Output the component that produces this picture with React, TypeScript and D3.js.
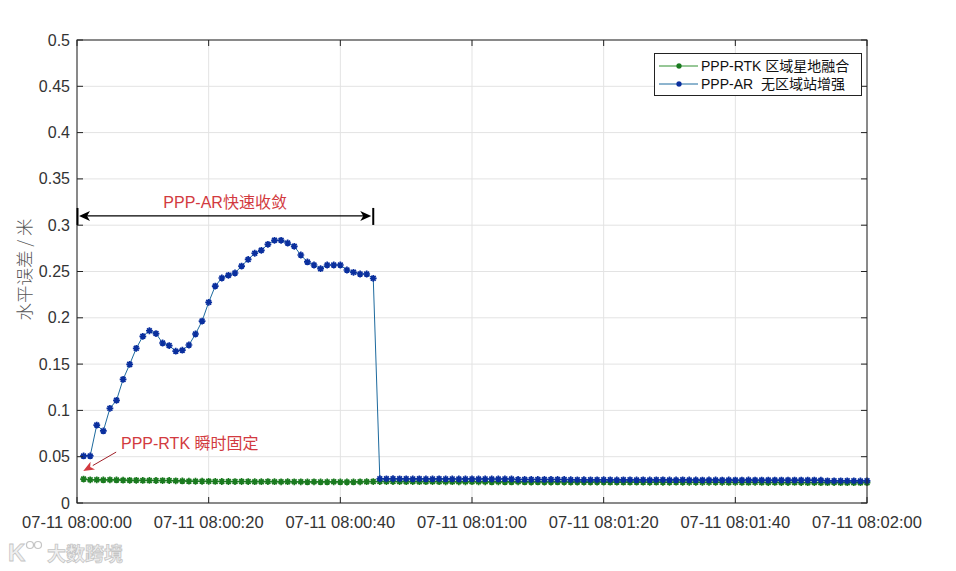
import React from "react";
import * as d3 from "d3";

// ---- data ----
const xTickSeconds = [0, 20, 40, 60, 80, 100, 120];
const xTickLabels = [
  "07-11 08:00:00",
  "07-11 08:00:20",
  "07-11 08:00:40",
  "07-11 08:01:00",
  "07-11 08:01:20",
  "07-11 08:01:40",
  "07-11 08:02:00",
];
const yTicks = [0, 0.05, 0.1, 0.15, 0.2, 0.25, 0.3, 0.35, 0.4, 0.45, 0.5];

// seconds since 08:00:00 (1..120)
const seconds = Array.from({ length: 120 }, (_, i) => i + 1);

const rtkValues = [
  0.0258, 0.0250, 0.0250, 0.0249, 0.0250, 0.0249, 0.0246, 0.0245, 0.0245, 0.0244,
  0.0244, 0.0243, 0.0242, 0.0243, 0.0240, 0.0238, 0.0236, 0.0235, 0.0235, 0.0234,
  0.0233, 0.0232, 0.0232, 0.0231, 0.0232, 0.0231, 0.0230, 0.0230, 0.0231, 0.0230,
  0.0229, 0.0230, 0.0229, 0.0229, 0.0228, 0.0229, 0.0228, 0.0228, 0.0229, 0.0228,
  0.0227, 0.0228, 0.0229, 0.0230, 0.0231, 0.0232, 0.0231, 0.0232, 0.0231, 0.0230,
  0.0231, 0.0230, 0.0230, 0.0231, 0.0230, 0.0229, 0.0230, 0.0229, 0.0229, 0.0230,
  0.0229, 0.0229, 0.0228, 0.0229, 0.0228, 0.0228, 0.0229, 0.0228, 0.0227, 0.0228,
  0.0227, 0.0227, 0.0228, 0.0227, 0.0226, 0.0227, 0.0226, 0.0226, 0.0227, 0.0226,
  0.0225, 0.0226, 0.0225, 0.0225, 0.0226, 0.0225, 0.0224, 0.0225, 0.0224, 0.0224,
  0.0225, 0.0224, 0.0223, 0.0224, 0.0223, 0.0223, 0.0224, 0.0223, 0.0222, 0.0223,
  0.0222, 0.0222, 0.0223, 0.0222, 0.0221, 0.0222, 0.0221, 0.0221, 0.0222, 0.0221,
  0.0220, 0.0221, 0.0220, 0.0220, 0.0221, 0.0220, 0.0219, 0.0220, 0.0219, 0.0219,
];

const arValues = [
  0.0508, 0.0508, 0.0842, 0.0778, 0.1022, 0.1109, 0.1335, 0.1497, 0.1670, 0.1800,
  0.1860, 0.1830, 0.1728, 0.1700, 0.1640, 0.1650, 0.1706, 0.1825, 0.1965, 0.2167,
  0.2343, 0.2430, 0.2459, 0.2484, 0.2559, 0.2630, 0.2697, 0.2729, 0.2794, 0.2837,
  0.2837, 0.2808, 0.2772, 0.2678, 0.2603, 0.2570, 0.2530, 0.2570, 0.2570, 0.2570,
  0.2516, 0.2491, 0.2473, 0.2473, 0.2426, 0.0262, 0.0261, 0.0262, 0.0261, 0.0261,
  0.0260, 0.0261, 0.0260, 0.0260, 0.0261, 0.0260, 0.0260, 0.0259, 0.0260, 0.0260,
  0.0259, 0.0260, 0.0259, 0.0259, 0.0260, 0.0259, 0.0254, 0.0255, 0.0254, 0.0255,
  0.0254, 0.0255, 0.0254, 0.0255, 0.0251, 0.0250, 0.0251, 0.0250, 0.0250, 0.0251,
  0.0250, 0.0249, 0.0250, 0.0250, 0.0249, 0.0250, 0.0249, 0.0250, 0.0250, 0.0249,
  0.0249, 0.0250, 0.0249, 0.0249, 0.0248, 0.0249, 0.0249, 0.0248, 0.0249, 0.0248,
  0.0248, 0.0249, 0.0248, 0.0248, 0.0247, 0.0248, 0.0248, 0.0247, 0.0248, 0.0247,
  0.0247, 0.0247, 0.0246, 0.0240, 0.0239, 0.0240, 0.0239, 0.0239, 0.0238, 0.0239,
];

const seriesNames = ["PPP-RTK 区域星地融合", "PPP-AR  无区域站增强"];
const arrowLabel = "PPP-AR快速收敛";
const arrowStartSec = 0;
const arrowEndSec = 45;
const arrowValue = 0.31;
const rtkNote = "PPP-RTK 瞬时固定";
const yLabel = "水平误差 / 米";

// ---- layout ----
const W = 956;
const H = 571;
const L = 77, R = 867, T = 40, B = 503;

const x = d3.scaleLinear().domain([0, 120]).range([L, R]);
const y = d3.scaleLinear().domain([0, 0.5]).range([B, T]);

const GREEN_LINE = "#2f8f2f";
const GREEN_MARK = "#1a7a1f";
const BLUE_LINE = "#1d6a9e";
const BLUE_MARK = "#0a2f9e";
const RED = "#d23a40";

const starPath = (r: number) => {
  const d = r * 0.7071;
  return `M${-r},0L${r},0M0,${-r}L0,${r}M${-d},${-d}L${d},${d}M${-d},${d}L${d},${-d}`;
};

function Series({ values, line, mark }: { values: number[]; line: string; mark: string }) {
  const gen = d3
    .line<number>()
    .x((_, i) => x(seconds[i]))
    .y((v) => y(v));
  const sp = starPath(3.4);
  return (
    <g>
      <path d={gen(values) || ""} fill="none" stroke={line} strokeWidth={1} />
      {values.map((v, i) => (
        <path
          key={i}
          d={sp}
          transform={`translate(${x(seconds[i])},${y(v)})`}
          stroke={mark}
          strokeWidth={1.7}
          fill="none"
        />
      ))}
    </g>
  );
}

export default function App() {
  const font = "'Liberation Sans', Arial, Helvetica, sans-serif";
  const cjk = "'Liberation Sans', Arial, 'Noto Sans CJK SC', sans-serif";
  const ay = y(arrowValue);
  const ax0 = x(arrowStartSec);
  const ax1 = x(arrowEndSec);
  const noteTip = { x: x(0.95), y: y(0.0345) };
  const noteTail = { x: x(5.95), y: y(0.055) };
  const ang = Math.atan2(noteTip.y - noteTail.y, noteTip.x - noteTail.x);
  const hl = 11, hw = 4.5;
  const hb = { x: noteTip.x - hl * Math.cos(ang), y: noteTip.y - hl * Math.sin(ang) };
  const px = -Math.sin(ang), py = Math.cos(ang);
  return (
    <div>
      <style>{"body{margin:0;background:#fff}"}</style>
      <svg width={W} height={H} style={{ display: "block" }}>
        <rect x={0} y={0} width={W} height={H} fill="#fff" />
        {/* grid */}
        {yTicks.map((t) => (
          <line key={"gy" + t} x1={L} x2={R} y1={y(t)} y2={y(t)} stroke="#e3e3e3" strokeWidth={1} />
        ))}
        {xTickSeconds.map((t) => (
          <line key={"gx" + t} x1={x(t)} x2={x(t)} y1={T} y2={B} stroke="#e3e3e3" strokeWidth={1} />
        ))}
        {/* series */}
        <Series values={rtkValues} line={GREEN_LINE} mark={GREEN_MARK} />
        <Series values={arValues} line={BLUE_LINE} mark={BLUE_MARK} />
        {/* box */}
        <rect x={L} y={T} width={R - L} height={B - T} fill="none" stroke="#222" strokeWidth={1} />
        {/* ticks */}
        {yTicks.map((t) => (
          <g key={"ty" + t}>
            <line x1={L} x2={L + 6} y1={y(t)} y2={y(t)} stroke="#222" />
            <line x1={R} x2={R - 6} y1={y(t)} y2={y(t)} stroke="#222" />
            <text
              x={L - 7}
              y={y(t) + 5.5}
              textAnchor="end"
              fontFamily={font}
              fontSize={16}
              fill="#333"
            >
              {String(t)}
            </text>
          </g>
        ))}
        {xTickSeconds.map((t, i) => (
          <g key={"tx" + t}>
            <line x1={x(t)} x2={x(t)} y1={B} y2={B - 6} stroke="#222" />
            <line x1={x(t)} x2={x(t)} y1={T} y2={T + 6} stroke="#222" />
            <text x={x(t)} y={528} textAnchor="middle" fontFamily={font} fontSize={16.5} fill="#333">
              {xTickLabels[i]}
            </text>
          </g>
        ))}
        {/* y label */}
        <text
          transform={`translate(31,${(T + B) / 2 - 2}) rotate(-90)`}
          textAnchor="middle"
          fontFamily="'Noto Sans CJK SC', sans-serif"
          fontSize={17.5}
          fontWeight={300}
          fill="#555"
        >
          {yLabel}
        </text>
        {/* double arrow annotation */}
        <g>
          <line x1={ax0 + 8} x2={ax1 - 8} y1={ay} y2={ay} stroke="#000" strokeWidth={1.3} />
          <line x1={ax0 + 0.5} x2={ax0 + 0.5} y1={ay - 8} y2={ay + 9} stroke="#000" strokeWidth={2} />
          <line x1={ax1} x2={ax1} y1={ay - 8} y2={ay + 9} stroke="#000" strokeWidth={2} />
          <path d={`M${ax0 + 2},${ay}L${ax0 + 13},${ay - 5}L${ax0 + 10},${ay}L${ax0 + 13},${ay + 5}Z`} fill="#000" />
          <path d={`M${ax1 - 2},${ay}L${ax1 - 13},${ay - 5}L${ax1 - 10},${ay}L${ax1 - 13},${ay + 5}Z`} fill="#000" />
          <text
            x={(ax0 + ax1) / 2}
            y={ay - 7.5}
            textAnchor="middle"
            fontFamily={cjk}
            fontSize={16}
            fill={RED}
          >
            {arrowLabel}
          </text>
        </g>
        {/* rtk note */}
        <g>
          <line x1={noteTail.x} y1={noteTail.y} x2={hb.x} y2={hb.y} stroke="#a02028" strokeWidth={1} />
          <path
            d={`M${noteTip.x},${noteTip.y}L${hb.x + px * hw},${hb.y + py * hw}L${hb.x + 3 * Math.cos(ang)},${hb.y + 3 * Math.sin(ang)}L${hb.x - px * hw},${hb.y - py * hw}Z`}
            fill={RED}
          />
          <text x={121} y={449} fontFamily={cjk} fontSize={16} fill={RED}>
            {rtkNote}
          </text>
        </g>
        {/* legend */}
        <g>
          <rect x={654.5} y={53.5} width={207} height={42} fill="#fff" stroke="#222" strokeWidth={1} />
          {[
            { name: seriesNames[0], line: GREEN_LINE, mark: GREEN_MARK },
            { name: seriesNames[1], line: BLUE_LINE, mark: BLUE_MARK },
          ].map((s, i) => {
            const cy = 66 + i * 18;
            return (
              <g key={s.name}>
                <line x1={659} x2={698} y1={cy} y2={cy} stroke={s.line} strokeWidth={1} />
                <path d={starPath(2.8)} transform={`translate(679,${cy})`} stroke={s.mark} strokeWidth={1.6} fill="none" />
                <text
                  x={701}
                  y={cy + 5}
                  fontFamily={cjk}
                  fontSize={14}
                  fill="#111"
                  style={{ whiteSpace: "pre" }}
                >
                  {s.name}
                </text>
              </g>
            );
          })}
        </g>
        {/* watermark */}
        <g opacity={0.85}>
          <text x={8} y={561} fontFamily={font} fontSize={24} fontWeight={700} fill="#eee" stroke="#bbb" strokeWidth={0.8}>
            K
          </text>
          <circle cx={30} cy={545} r={3.5} fill="none" stroke="#bbb" strokeWidth={1.2} />
          <circle cx={38} cy={545} r={3.5} fill="none" stroke="#bbb" strokeWidth={1.2} />
          <text x={47} y={561} fontFamily="'Noto Sans CJK SC', sans-serif" fontSize={19} fontWeight={700} fill="#eee" stroke="#bbb" strokeWidth={0.8}>
            大数跨境
          </text>
        </g>
      </svg>
    </div>
  );
}
